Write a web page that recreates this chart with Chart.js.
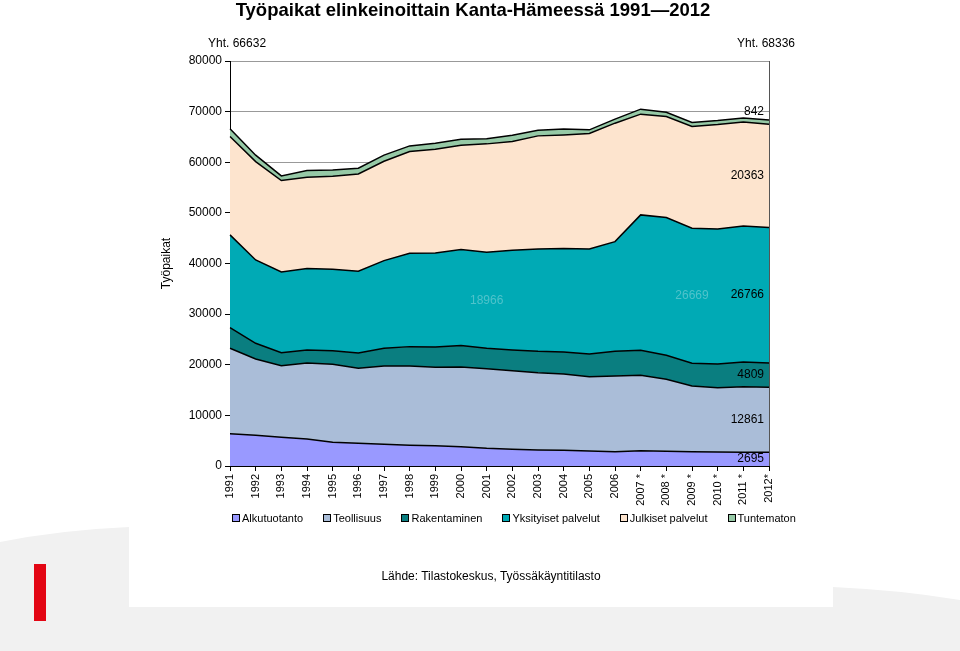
<!DOCTYPE html>
<html>
<head>
<meta charset="utf-8">
<script src="https://cdn.jsdelivr.net/npm/chart.js@4.4.1/dist/chart.umd.min.js"></script>
<style>
  body { margin: 0; background: #fff; }
  #wrap { position: relative; width: 960px; height: 651px; overflow: hidden; font-family: "Liberation Sans", Arial, sans-serif; }
  #bg, #chart { position: absolute; left: 0; top: 0; }
  #title { position: absolute; left: 0; width: 946px; top: -1px; text-align: center; font-weight: bold; font-size: 18.5px; }
  #legend { position: absolute; left: 232px; top: 512px; display: flex; gap: 20px; font-size: 11px; }
  #legend span.item { display: flex; align-items: center; }
  #legend i { display: inline-block; width: 6px; height: 6px; border: 1px solid #000; margin-right: 2px; }
  #source { position: absolute; left: 0; width: 982px; top: 569px; text-align: center; font-size: 12px; }
</style>
</head>
<body>
<div id="wrap">
  <svg id="bg" width="960" height="651">
    <path d="M0 542 Q60 530 129 527 L129 607 L833 607 L833 587 Q900 590 960 600 L960 651 L0 651 Z" fill="#f1f1f1"/>
    <rect x="34" y="564" width="12" height="57" fill="#e30613"/>
  </svg>
  <canvas id="chart" width="960" height="651"></canvas>
  <div id="title">Työpaikat elinkeinoittain Kanta-Hämeessä 1991—2012</div>
  <div id="legend"></div>
  <div id="source">Lähde: Tilastokeskus, Työssäkäyntitilasto</div>
</div>
<script>
// vuodet
const years = ['1991', '1992', '1993', '1994', '1995', '1996', '1997', '1998', '1999', '2000',
  '2001', '2002', '2003', '2004', '2005', '2006', '2007 *', '2008 *', '2009 *', '2010 *', '2011 *', '2012*'];

// toimialat (työpaikat)
const alkutuotanto = [6380, 6060, 5670, 5340, 4680, 4480, 4280, 4090, 4010, 3820, 3500, 3300, 3160, 3100, 2960, 2830, 3030, 2900, 2830, 2770, 2700, 2695];
const teollisuus = [16870, 15080, 14150, 15010, 15410, 14820, 15480, 15670, 15490, 15740, 15730, 15530, 15280, 15080, 14690, 14950, 14890, 14230, 12980, 12700, 12970, 12861];
const rakentaminen = [4080, 3100, 2570, 2570, 2690, 3030, 3500, 3820, 4010, 4220, 4030, 4090, 4220, 4350, 4480, 4880, 4940, 4740, 4480, 4690, 4880, 4809];
const yksityiset = [18320, 16460, 15940, 16070, 16080, 16140, 17310, 18450, 18580, 18960, 18966, 19700, 20220, 20410, 20750, 21660, 26740, 27200, 26669, 26670, 26870, 26766];
const julkiset = [19420, 19430, 18050, 18060, 18380, 19230, 19630, 20080, 20490, 20630, 21404, 21460, 22330, 22460, 22790, 23400, 19900, 19960, 20091, 20620, 20550, 20363];
const tuntematon = [1562, 1270, 920, 1300, 1250, 1130, 1200, 1120, 1180, 1190, 990, 1270, 1120, 1190, 730, 790, 990, 860, 790, 780, 790, 842];

const yTicks = [0, 10000, 20000, 30000, 40000, 50000, 60000, 70000, 80000];

const series = [
  { label: 'Alkutuotanto', data: alkutuotanto, color: '#9999ff' },
  { label: 'Teollisuus', data: teollisuus, color: '#aabdd8' },
  { label: 'Rakentaminen', data: rakentaminen, color: '#0a7e80' },
  { label: 'Yksityiset palvelut', data: yksityiset, color: '#00aab5' },
  { label: 'Julkiset palvelut', data: julkiset, color: '#fde4ce' },
  { label: 'Tuntematon', data: tuntematon, color: '#96c9a6' }
];

// haaleat selitteet keskellä kuvaa (sarja, vuosi-indeksi)
const faintLabels = [[3, 10], [3, 18]];

const font = '"Liberation Sans", Arial, sans-serif';

// legend html
const legend = document.getElementById('legend');
series.forEach(s => {
  const item = document.createElement('span');
  item.className = 'item';
  item.innerHTML = '<i style="background:' + s.color + '"></i>' + s.label;
  legend.appendChild(item);
});

const labelsPlugin = {
  id: 'labelsPlugin',
  afterDatasetsDraw(chart) {
    const { ctx, chartArea } = chart;
    const x = chart.scales.x, y = chart.scales.y;
    const last = years.length - 1;
    ctx.save();
    // oikea reuna
    ctx.strokeStyle = '#555';
    ctx.lineWidth = 1;
    ctx.beginPath();
    ctx.moveTo(Math.round(chartArea.right) + 0.5, chartArea.top);
    ctx.lineTo(Math.round(chartArea.right) + 0.5, chartArea.bottom);
    ctx.stroke();

    ctx.font = '12px ' + font;
    ctx.textBaseline = 'middle';
    ctx.textAlign = 'right';
    ctx.fillStyle = '#000';
    let base = 0;
    series.forEach((s, i) => {
      const v = s.data[last];
      let py = y.getPixelForValue(base + v / 2);
      if (i === series.length - 1) py = y.getPixelForValue(base + v) - 8;
      ctx.fillText(String(v), chartArea.right - 5, py);
      base += v;
    });

    ctx.textAlign = 'center';
    ctx.fillStyle = '#4fc3cb';
    faintLabels.forEach(([si, idx]) => {
      let b = 0;
      for (let k = 0; k < si; k++) b += series[k].data[idx];
      const v = series[si].data[idx];
      ctx.fillText(String(v), x.getPixelForValue(idx), y.getPixelForValue(b + v / 2));
    });

    // yhteensä
    ctx.fillStyle = '#000';
    const total = idx => series.reduce((a, s) => a + s.data[idx], 0);
    ctx.textAlign = 'left';
    ctx.fillText('Yht. ' + total(0), x.getPixelForValue(0) - 22, chartArea.top - 17);
    ctx.textAlign = 'right';
    ctx.fillText('Yht. ' + total(last), x.getPixelForValue(last) + 26, chartArea.top - 17);
    ctx.restore();
  }
};

new Chart(document.getElementById('chart'), {
  type: 'line',
  data: {
    labels: years,
    datasets: series.map((s, i) => ({
      label: s.label,
      data: s.data,
      backgroundColor: s.color,
      borderColor: '#000',
      borderWidth: 1.5,
      pointRadius: 0,
      tension: 0,
      fill: i === 0 ? 'origin' : '-1'
    }))
  },
  options: {
    responsive: false,
    animation: false,
    layout: { padding: { left: 155, right: 191, top: 61, bottom: 145 } },
    plugins: { legend: { display: false }, tooltip: { enabled: false } },
    scales: {
      x: {
        offset: false,
        grid: { drawOnChartArea: false, color: '#000', tickLength: 5 },
        border: { color: '#000' },
        ticks: { color: '#000', font: { family: font, size: 11 }, minRotation: 90, maxRotation: 90, autoSkip: false, padding: 3 },
        afterFit: s => { s.height = 40; }
      },
      y: {
        stacked: true,
        min: 0,
        max: 80000,
        afterBuildTicks: s => { s.ticks = yTicks.map(v => ({ value: v })); },
        grid: { color: '#999', tickLength: 5, tickColor: '#000' },
        border: { color: '#000' },
        ticks: { color: '#000', font: { family: font, size: 12 }, callback: v => String(v) },
        title: { display: true, text: 'Työpaikat', color: '#000', font: { family: font, size: 12 } },
        afterFit: s => { s.width = 75; }
      }
    }
  },
  plugins: [labelsPlugin]
});
</script>
</body>
</html>
